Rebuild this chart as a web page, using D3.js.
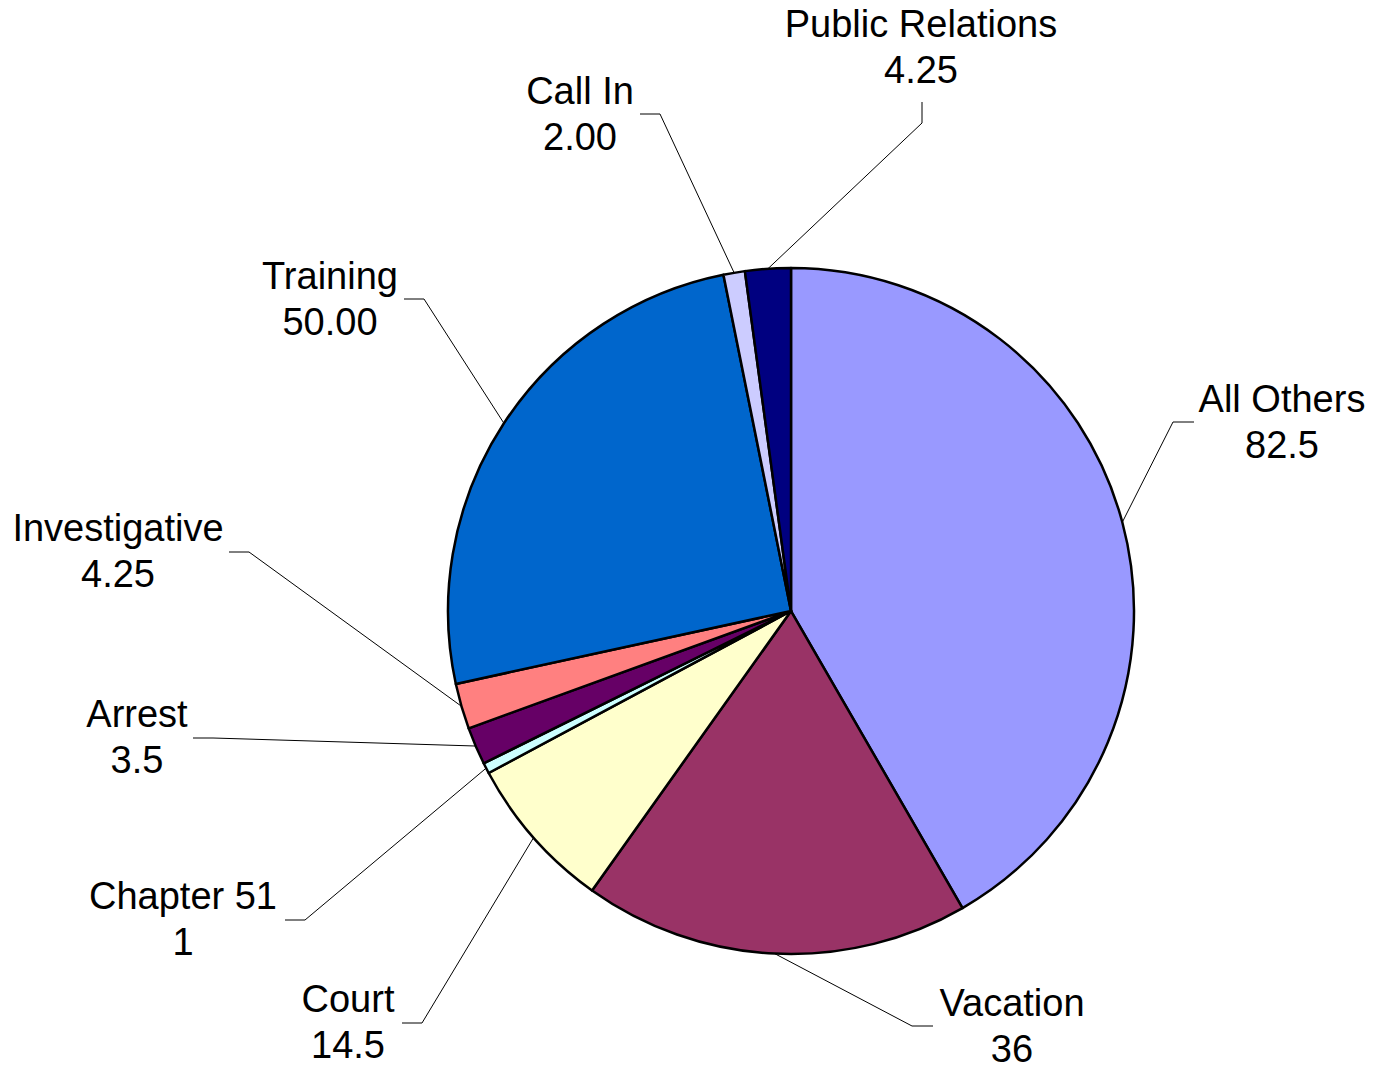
<!DOCTYPE html>
<html>
<head>
<meta charset="utf-8">
<script src="https://cdn.jsdelivr.net/npm/d3@7"></script>
<style>
  body { margin: 0; background: #fff; }
  text { font-family: "Liberation Sans", Arial, sans-serif; }
</style>
</head>
<body>
<script>
//global variables
var w = 1374;
var h = 1069;

//chart data
var categories = ["All Others", "Vacation", "Court", "Chapter 51", "Arrest", "Investigative", "Training", "Call In", "Public Relations"];
var values = [82.5, 36, 14.5, 1, 3.5, 4.25, 50, 2, 4.25];
var valueLabels = ["82.5", "36", "14.5", "1", "3.5", "4.25", "50.00", "2.00", "4.25"];
var colors = ["#9999FF", "#993366", "#FFFFCC", "#CCFFFF", "#660066", "#FF8080", "#0066CC", "#CCCCFF", "#000080"];

//label layout: label centre x, first baseline, elbow point, end of leader
var labelLayout = [
  [1282, 412, 1173, 422, 1194, 422],
  [1012, 1016, 912, 1026, 933, 1026],
  [348, 1012, 422, 1023, 402, 1023],
  [183, 909, 305, 920, 285, 920],
  [137, 727, 213, 738, 193, 738],
  [118, 541, 249, 552, 229, 552],
  [330, 289, 424, 299, 404, 299],
  [580, 104, 660, 114, 640, 114],
  [921, 37, 922, 123, 922, 102]
];

var cx = 791, cy = 611, r = 343;

//create main svg element
var svg = d3.select("body")
            .append("svg")
            .attr("width", w)
            .attr("height", h);

var pie = d3.pie().sort(null).value(function(d) { return d; });
var arcs = pie(values);

var arc = d3.arc().innerRadius(0).outerRadius(r);

var g = svg.append("g").attr("transform", "translate(" + cx + "," + cy + ")");

//slices
g.selectAll("path")
  .data(arcs)
  .enter().append("path")
  .attr("d", arc)
  .attr("fill", function(d, i) { return colors[i]; })
  .attr("stroke", "#000")
  .attr("stroke-width", 2.5)
  .attr("stroke-linejoin", "round");

//leader lines from the slice edge to the label
svg.selectAll("polyline.leader")
  .data(arcs)
  .enter().append("polyline")
  .attr("class", "leader")
  .attr("fill", "none")
  .attr("stroke", "#000")
  .attr("stroke-width", 1)
  .attr("points", function(d, i) {
    var a = (d.startAngle + d.endAngle) / 2;
    var sx = cx + r * Math.sin(a);
    var sy = cy - r * Math.cos(a);
    var L = labelLayout[i];
    return [[sx, sy], [L[2], L[3]], [L[4], L[5]]].join(" ");
  });

//labels: name and value on two lines
var labels = svg.selectAll("text.lbl")
  .data(arcs)
  .enter().append("text")
  .attr("class", "lbl")
  .attr("text-anchor", "middle")
  .attr("font-size", "38px")
  .attr("fill", "#000");

labels.append("tspan")
  .attr("x", function(d, i) { return labelLayout[i][0]; })
  .attr("y", function(d, i) { return labelLayout[i][1]; })
  .text(function(d, i) { return categories[i]; });

labels.append("tspan")
  .attr("x", function(d, i) { return labelLayout[i][0]; })
  .attr("y", function(d, i) { return labelLayout[i][1] + 46; })
  .text(function(d, i) { return valueLabels[i]; });
</script>
</body>
</html>
